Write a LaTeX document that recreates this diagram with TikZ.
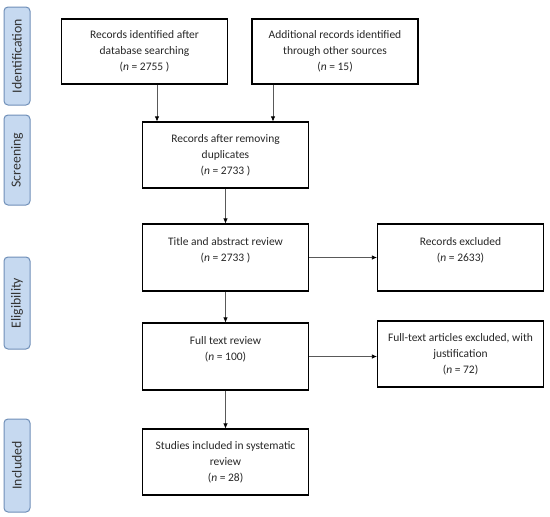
\documentclass[tikz,border=0pt]{standalone}
\usepackage{fontspec}
\setmainfont{Carlito}
\usepackage{xcolor}
\usetikzlibrary{arrows.meta}

\definecolor{stagefill}{HTML}{C6D9F0}
\definecolor{stageline}{HTML}{6F8FB8}
\definecolor{arrowgray}{HTML}{595959}

\tikzset{
  recbox/.style={draw=black, line width=1.1pt, minimum width=166pt,
    minimum height=66pt, align=center, font=\fontsize{11.5}{16}\selectfont,
    text=black!85, inner sep=0pt},
  stagebox/.style={draw=stageline, fill=stagefill, line width=1pt,
    rounded corners=4pt, minimum width=26pt, inner sep=0pt},
  stagetext/.style={rotate=90, font=\fontsize{13.8}{15}\selectfont, text=black!80},
  flow/.style={draw=arrowgray, line width=0.7pt,
    -{Latex[length=5pt,width=4.5pt,color=black]}}
}

\begin{document}
\begin{tikzpicture}[x=1pt,y=-1pt]
  \useasboundingbox (0,0) rectangle (550,517);

  % Stage labels on the left
  \node[stagebox, minimum height=98pt] (sid) at (17,56) {};
  \node[stagetext] at (sid) {Identification};
  \node[stagebox, minimum height=90pt] (sscr) at (17,160) {};
  \node[stagetext] at (sscr) {Screening};
  \node[stagebox, minimum height=92pt] (selig) at (17,303) {};
  \node[stagetext] at (selig) {Eligibility};
  \node[stagebox, minimum height=93pt] (sincl) at (17,465.5) {};
  \node[stagetext] at (sincl) {Included};

  % Identification
  \node[recbox, minimum height=65pt] (dbsearch) at (144.5,51.5)
    {Records identified after\\database searching\\(\textit{n} = 2755 )};
  \node[recbox, minimum height=65pt] (othersrc) at (335,51.5)
    {Additional records identified\\through other sources\\(\textit{n} = 15)};

  % Screening
  \node[recbox] (dedup) at (225.5,155)
    {Records after removing\\duplicates\\(\textit{n} = 2733 )};

  % Eligibility
  \node[recbox, minimum height=67pt] (abstract) at (225.5,257.5)
    {Title and abstract review\\(\textit{n} = 2733 )\\\mbox{}};
  \node[recbox, minimum height=67pt] (excl) at (460.5,257.5)
    {Records excluded\\(\textit{n} = 2633)\\\mbox{}};
  \node[recbox, minimum height=67pt] (fulltext) at (225.5,356.5)
    {Full text review\\(\textit{n} = 100)\\\mbox{}};
  \node[recbox] (ftexcl) at (460.5,354)
    {Full-text articles excluded, with\\justification\\(\textit{n} = 72)};

  % Included
  \node[recbox] (studies) at (225.5,462)
    {Studies included in systematic\\review\\(\textit{n} = 28)};

  % Arrows
  \draw[flow] ([xshift=12.5pt]dbsearch.south) -- ([xshift=12.5pt]dbsearch.south |- dedup.north);
  \draw[flow] ([xshift=-62pt]othersrc.south) -- ([xshift=-62pt]othersrc.south |- dedup.north);
  \draw[flow] (dedup.south) -- (abstract.north);
  \draw[flow] (abstract.east) -- (excl.west);
  \draw[flow] (abstract.south) -- (fulltext.north);
  \draw[flow] (fulltext.east) -- (fulltext.east -| ftexcl.west);
  \draw[flow] (fulltext.south) -- (studies.north);

\end{tikzpicture}
\end{document}
